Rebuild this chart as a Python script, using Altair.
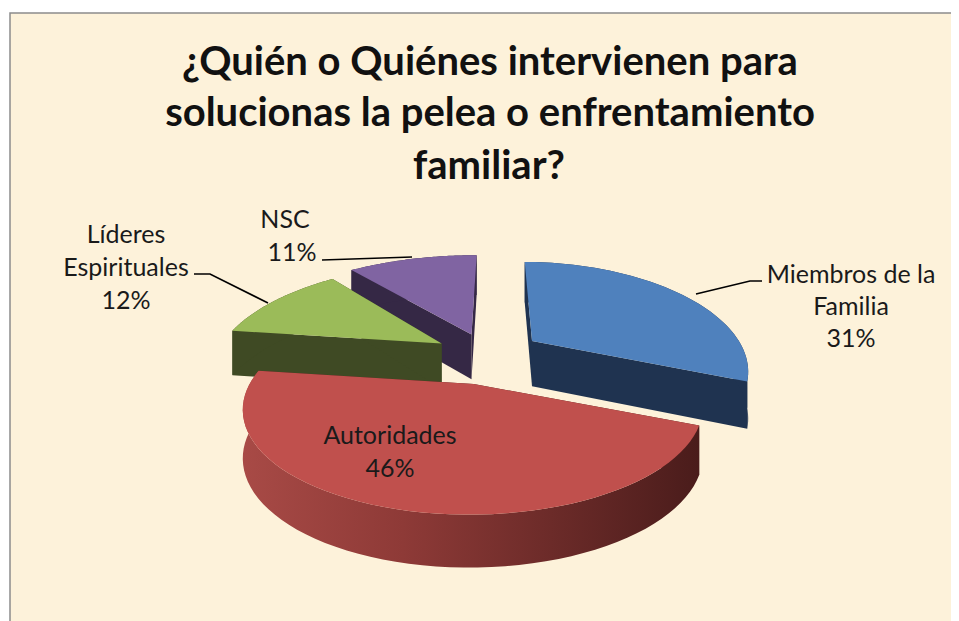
import math
import altair as alt
import pandas as pd

# --- chart values
categories = ["Miembros de la Familia", "Autoridades", "Líderes Espirituales", "NSC"]
shares = [31, 46, 12, 11]
top_colors = ["#4F81BD", "#C0504D", "#9BBB59", "#8064A2"]
side_colors = ["#1F3350", "#4D1E1C", "#3F4A24", "#352845"]
title_lines = ["¿Quién o Quiénes intervienen para",
               "solucionas la pelea o enfrentamiento",
               "familiar?"]
title_x = [490, 490, 489]
title_y = [63, 114, 167]
label_text = ["Miembros de la", "Familia", "31%", "Autoridades", "46%",
              "Líderes", "Espirituales", "12%", "NSC", "11%"]
label_x = [851, 851, 851, 390, 390, 126, 126, 126, 285, 292]
label_y = [275, 307, 339, 436, 469, 235, 268, 301, 220, 253]
leader_x = [[696, 750, 762], [194, 210, 268], [322, 412]]
leader_y = [[294, 281, 281], [274, 274, 303], [260, 257]]

# --- projection of the tilted pie
CX, CY, A, B, P, DEPTH, P2, EXPLODE = 490, 355, 224, 105, 0.25, 46, 0.12, 0.25
ROT = math.radians(0.5)
# per-slice tuning: radius in x, radius in y, pixel shift x, pixel shift y
slice_rx = [0.955, 0.94, 1.01, 1.10]
slice_ry = [1.0, 0.85, 1.0, 1.06]
slice_dx = [-3, -1, -1, -1]
slice_dy = [0, 2, 1, 3]


def project(dx, dy, low):
    w = 1 + P * dy
    sx = CX + A * dx / w
    sy = CY - B * dy / w
    if low:
        sy += DEPTH / (1 + P2 * dy)
    return sx, sy


x_enc = alt.X("x:Q", scale=alt.Scale(domain=[8, 951], nice=False, zero=False), axis=None)
y_enc = alt.Y("y:Q", scale=alt.Scale(domain=[621, 8], nice=False, zero=False), axis=None)


def polygon(points, fill):
    df = pd.DataFrame({"x": [p[0] for p in points] + [points[0][0]],
                       "y": [p[1] for p in points] + [points[0][1]],
                       "i": list(range(len(points) + 1))})
    return alt.Chart(df).mark_line(fill=fill, stroke=None, strokeWidth=0, interpolate="linear-closed").encode(
        x=x_enc, y=y_enc, order="i:Q")


def slice_layers(k, side_fill):
    start = ROT + sum(shares[:k]) / sum(shares) * 2 * math.pi
    end = ROT + sum(shares[:k + 1]) / sum(shares) * 2 * math.pi
    mid = (start + end) / 2
    ox, oy = EXPLODE * math.sin(mid), EXPLODE * math.cos(mid)
    n = 60
    rx, ry = slice_rx[k], slice_ry[k]
    arc = [(ox + rx * math.sin(start + (end - start) * j / n), oy + ry * math.cos(start + (end - start) * j / n))
           for j in range(n + 1)]
    apex = (ox, oy)

    def place(a, b, low):
        sx, sy = project(a, b, low)
        return sx + slice_dx[k], sy + slice_dy[k]

    arc_hi = [place(a, b, False) for a, b in arc]
    arc_lo = [place(a, b, True) for a, b in arc]
    apex_hi, apex_lo = place(*apex, False), place(*apex, True)
    layers = [
        polygon([apex_hi, arc_hi[0], arc_lo[0], apex_lo], side_colors[k]),
        polygon([apex_hi, arc_hi[-1], arc_lo[-1], apex_lo], side_colors[k]),
        polygon(arc_hi + arc_lo[::-1], side_fill),
        polygon([apex_hi] + arc_hi, top_colors[k]),
    ]
    return layers


red_gradient = alt.LinearGradient(
    gradient="linear", x1=0, x2=1, y1=0, y2=0,
    stops=[alt.GradientStop(offset=0, color="#A84A46"),
           alt.GradientStop(offset=0.35, color="#8E3A37"),
           alt.GradientStop(offset=1, color="#4A1C1B")])

paint_order = [3, 2, 0, 1]
layers = []

# background: beige panel running off the right and bottom, gray frame on the left and top
panel = pd.DataFrame({"x": [10], "x2": [980], "y": [13], "y2": [640]})
layers.append(alt.Chart(panel).mark_rect(color="#FDF2DA", stroke="#8C8C8C", strokeWidth=1.5).encode(
    x=x_enc, x2="x2:Q", y=y_enc, y2="y2:Q"))

for k in paint_order:
    layers += slice_layers(k, red_gradient if k == 1 else side_colors[k])

for xs, ys in zip(leader_x, leader_y):
    df = pd.DataFrame({"x": xs, "y": ys, "i": list(range(len(xs)))})
    layers.append(alt.Chart(df).mark_line(color="#000000", strokeWidth=1.6).encode(x=x_enc, y=y_enc, order="i:Q"))

labels = pd.DataFrame({"x": label_x, "y": label_y, "t": label_text})
layers.append(alt.Chart(labels).mark_text(font="Lato", fontSize=25, color="#1A1A1A", align="center", baseline="middle").encode(
    x=x_enc, y=y_enc, text="t:N"))

titles = pd.DataFrame({"x": title_x, "y": title_y, "t": title_lines})
layers.append(alt.Chart(titles).mark_text(font="Lato", fontSize=40, fontWeight="bold", color="#111111", align="center", baseline="middle").encode(
    x=x_enc, y=y_enc, text="t:N"))

chart = alt.layer(*layers).properties(
    width=943, height=613, padding=0, autosize=alt.AutoSizeParams(type="none"), background="#FFFFFF"
).configure_view(stroke=None)

chart.save("out.html", embed_options={"renderer": "svg", "actions": False})
